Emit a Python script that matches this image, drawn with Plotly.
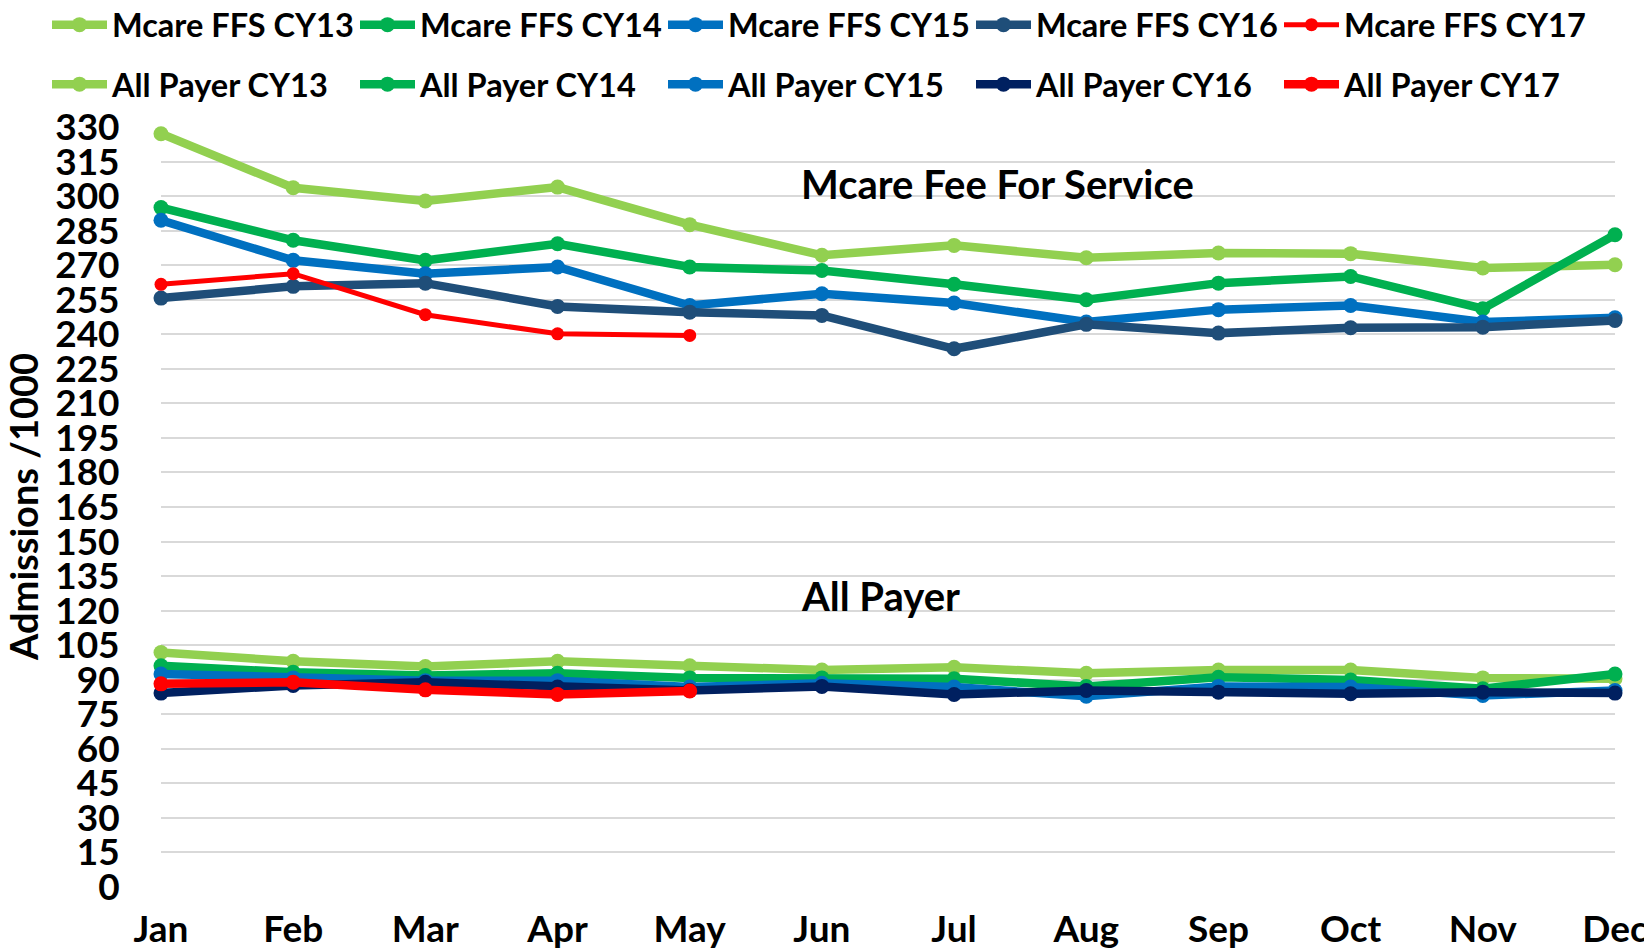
import plotly.graph_objects as go

months = ["Jan", "Feb", "Mar", "Apr", "May", "Jun", "Jul", "Aug", "Sep", "Oct", "Nov", "Dec"]

ffs_cy13 = [327.1, 303.6, 297.9, 303.9, 287.6, 274.3, 278.6, 273.2, 275.3, 275.0, 268.8, 270.2]
ffs_cy14 = [295.0, 280.8, 272.1, 279.3, 269.2, 267.7, 261.7, 255.0, 262.2, 265.1, 251.1, 283.2]
ffs_cy15 = [289.5, 272.1, 266.3, 269.2, 252.5, 257.6, 253.6, 245.3, 250.7, 252.5, 245.3, 247.2]
ffs_cy16 = [255.7, 260.8, 262.2, 252.1, 249.6, 248.2, 233.7, 244.3, 240.5, 242.8, 243.1, 246.0]
ffs_cy17 = [261.7, 266.3, 248.5, 240.2, 239.5]

ap_cy13 = [101.8, 98.0, 95.7, 98.0, 96.1, 94.2, 95.4, 92.8, 94.2, 94.2, 90.8, 90.4]
ap_cy14 = [96.1, 93.2, 91.8, 92.8, 90.8, 90.8, 90.4, 87.1, 91.1, 89.9, 86.1, 92.5]
ap_cy15 = [92.5, 90.8, 89.6, 89.6, 86.8, 88.5, 86.8, 82.8, 87.1, 86.8, 83.2, 85.3]
ap_cy16 = [84.2, 87.5, 88.9, 86.8, 85.3, 87.1, 83.6, 85.3, 84.6, 83.9, 84.6, 84.2]
ap_cy17 = [88.2, 88.9, 85.6, 83.6, 85.1]

y_ticks = list(range(0, 331, 15))

FONT = "Lato"
# page body has an 8px default margin, so layout coords = screen coords - 8
OFF = 8
W, H = 1652 - OFF, 951 - OFF
L = 161 - OFF
T = 127 - OFF
R = W - (1615 - OFF)
B = H - (887 - OFF)
plot_w = W - L - R
plot_h = H - T - B

series = [
    ("Mcare FFS CY13", ffs_cy13, "#92D050", 8.5, 15, "legend"),
    ("Mcare FFS CY14", ffs_cy14, "#00B050", 8.5, 15, "legend"),
    ("Mcare FFS CY15", ffs_cy15, "#0070C0", 8.5, 15, "legend"),
    ("Mcare FFS CY16", ffs_cy16, "#1F4E79", 8.5, 15, "legend"),
    ("Mcare FFS CY17", ffs_cy17, "#FF0000", 5, 13, "legend"),
    ("All Payer CY13", ap_cy13, "#92D050", 8.5, 15, "legend2"),
    ("All Payer CY14", ap_cy14, "#00B050", 8.5, 15, "legend2"),
    ("All Payer CY15", ap_cy15, "#0070C0", 8.5, 15, "legend2"),
    ("All Payer CY16", ap_cy16, "#002060", 8.5, 15, "legend2"),
    ("All Payer CY17", ap_cy17, "#FF0000", 8.5, 15, "legend2"),
]

fig = go.Figure()
for name, vals, color, lw, ms, lg in series:
    fig.add_trace(go.Scatter(
        x=months[:len(vals)], y=vals, name=name, mode="lines+markers",
        line=dict(color=color, width=lw),
        marker=dict(color=color, size=ms, symbol="circle"),
        cliponaxis=False, legend=lg,
    ))

leg_common = dict(
    orientation="h", xanchor="left", yanchor="middle",
    x=(47 - 161) / plot_w, itemwidth=55,
    font=dict(family=FONT, size=32.5, color="#000000", weight="bold"),
    bgcolor="rgba(0,0,0,0)", entrywidth=238, entrywidthmode="pixels",
    itemclick=False, itemdoubleclick=False,
)

fig.update_layout(
    width=W, height=H,
    margin=dict(l=L, r=R, t=T, b=B, autoexpand=False),
    paper_bgcolor="white", plot_bgcolor="white",
    showlegend=True,
    legend=dict(leg_common, y=1 + (127 - 25) / plot_h),
    legend2=dict(leg_common, y=1 + (127 - 84.5) / plot_h),
    xaxis=dict(
        type="category", categoryarray=months, range=[0, 11],
        showgrid=False, zeroline=False, showline=False,
        ticks="outside", ticklen=10, tickcolor="rgba(0,0,0,0)",
        tickfont=dict(family=FONT, size=37, color="#000000", weight="bold"),
    ),
    yaxis=dict(
        range=[0, 330], tickmode="array", tickvals=y_ticks,
        ticktext=[str(v) for v in y_ticks],
        showgrid=True, gridcolor="#D9D9D9", gridwidth=1.5,
        zeroline=False, showline=False,
        ticks="outside", ticklen=33, tickcolor="rgba(0,0,0,0)",
        tickfont=dict(family=FONT, size=37, color="#000000", weight="bold"),
    ),
    annotations=[
        dict(text="<b>Mcare Fee For Service</b>", x=4.825, y=305.1, xref="x", yref="y",
             xanchor="left", yanchor="middle", showarrow=False,
             font=dict(family=FONT, size=40, color="#000000")),
        dict(text="<b>All Payer</b>", x=4.825, y=126.2, xref="x", yref="y",
             xanchor="left", yanchor="middle", showarrow=False,
             font=dict(family=FONT, size=40, color="#000000")),
        dict(text="<b>Admissions /1000</b>", x=(23 - 161) / plot_w, y=0.5,
             xref="paper", yref="paper", xanchor="center", yanchor="middle",
             textangle=-90, showarrow=False,
             font=dict(family=FONT, size=38, color="#000000")),
    ],
)

fig.write_html("out.html")
